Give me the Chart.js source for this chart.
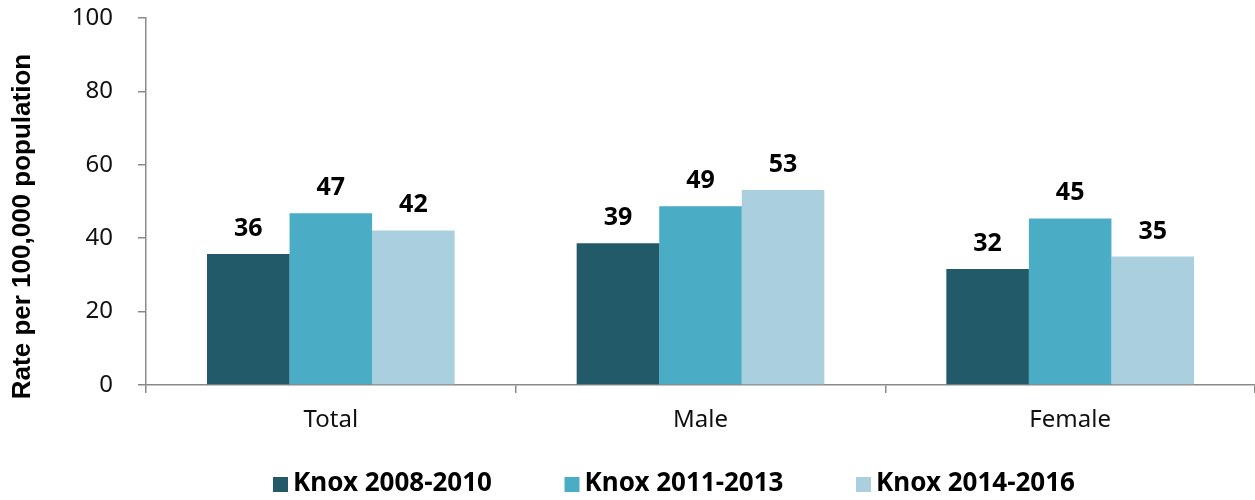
<!DOCTYPE html>
<html>
<head>
<meta charset="utf-8">
<script src="https://cdn.jsdelivr.net/npm/chart.js@4"></script>
<style>
  html, body { margin: 0; padding: 0; background: #ffffff; }
  #wrap { position: relative; width: 1255px; height: 500px; }
</style>
</head>
<body>
<div id="wrap"><canvas id="c" width="1255" height="500"></canvas></div>
<script>
const categories = ["Total", "Male", "Female"];
const seriesNames = ["Knox 2008-2010", "Knox 2011-2013", "Knox 2014-2016"];
const knox2008_2010 = [35.7, 38.6, 31.6];
const knox2011_2013 = [46.8, 48.7, 45.4];
const knox2014_2016 = [42.1, 53.1, 35.0];
const yTicks = [0, 20, 40, 60, 80, 100];
const yTitle = "Rate per 100,000 population";

const colors = ["#225a69", "#4bacc6", "#aacfde"];
const seriesValues = [knox2008_2010, knox2011_2013, knox2014_2016];

const valueLabels = {
  id: "valueLabels",
  afterDatasetsDraw(chart) {
    const ctx = chart.ctx;
    ctx.save();
    ctx.font = "bold 25px 'Noto Sans'";
    ctx.fillStyle = "#000000";
    ctx.textAlign = "center";
    ctx.textBaseline = "alphabetic";
    chart.data.datasets.forEach((ds, i) => {
      const meta = chart.getDatasetMeta(i);
      meta.data.forEach((el, j) => {
        ctx.fillText(String(Math.round(ds.data[j])), el.x, el.y - 18);
      });
    });
    ctx.restore();
  }
};

const customLegend = {
  id: "customLegend",
  afterDraw(chart) {
    const ctx = chart.ctx;
    ctx.save();
    ctx.font = "bold 26px 'Noto Sans'";
    ctx.textBaseline = "alphabetic";
    ctx.textAlign = "left";
    const startX = 273, step = 291.5, baseY = 491;
    chart.data.datasets.forEach((ds, i) => {
      const x = startX + i * step;
      ctx.fillStyle = ds.backgroundColor;
      ctx.fillRect(x, 477, 15, 15);
      ctx.fillStyle = "#000000";
      ctx.fillText(ds.label, x + 20, baseY);
    });
    ctx.restore();
  }
};

const yAxisTitle = {
  id: "yAxisTitle",
  afterDraw(chart) {
    const ctx = chart.ctx;
    const a = chart.chartArea;
    ctx.save();
    ctx.translate(23, (a.top + a.bottom) / 2 + 25);
    ctx.rotate(-Math.PI / 2);
    ctx.font = "bold 26px 'Liberation Sans'";
    ctx.fillStyle = "#000000";
    ctx.textAlign = "center";
    ctx.textBaseline = "middle";
    ctx.fillText(yTitle, 0, 0);
    ctx.restore();
  }
};

new Chart(document.getElementById("c"), {
  type: "bar",
  data: {
    labels: categories,
    datasets: seriesNames.map((name, i) => ({
      label: name,
      data: seriesValues[i],
      backgroundColor: colors[i],
      borderWidth: 0,
      categoryPercentage: 0.67,
      barPercentage: 1.0
    }))
  },
  options: {
    responsive: false,
    animation: false,
    devicePixelRatio: 1,
    layout: { padding: { top: 18, bottom: 42, left: 0, right: 0 } },
    plugins: {
      legend: { display: false },
      tooltip: { enabled: false }
    },
    scales: {
      x: {
        grid: {
          drawOnChartArea: false,
          drawTicks: true,
          tickLength: 8,
          color: "#8a8a8a",
          lineWidth: 1.5,
          offset: true
        },
        border: { color: "#8a8a8a", width: 1.5 },
        ticks: {
          font: { family: "'Noto Sans'", size: 24 },
          color: "#111111",
          padding: 13
        },
        afterFit(scale) { scale.height = 73; scale.paddingLeft = 0; scale.paddingRight = 0; }
      },
      y: {
        min: 0,
        max: 100,
        afterBuildTicks(scale) { scale.ticks = yTicks.map(v => ({ value: v })); },
        grid: {
          drawOnChartArea: false,
          drawTicks: true,
          tickLength: 8,
          color: "#8a8a8a",
          lineWidth: 1.5
        },
        border: { color: "#8a8a8a", width: 1.5 },
        ticks: {
          font: { family: "'Noto Sans'", size: 24 },
          color: "#111111",
          padding: 25
        },
        afterFit(scale) { scale.width = 146; scale.paddingTop = 0; scale.paddingBottom = 0; }
      }
    }
  },
  plugins: [valueLabels, customLegend, yAxisTitle]
});
</script>
</body>
</html>
